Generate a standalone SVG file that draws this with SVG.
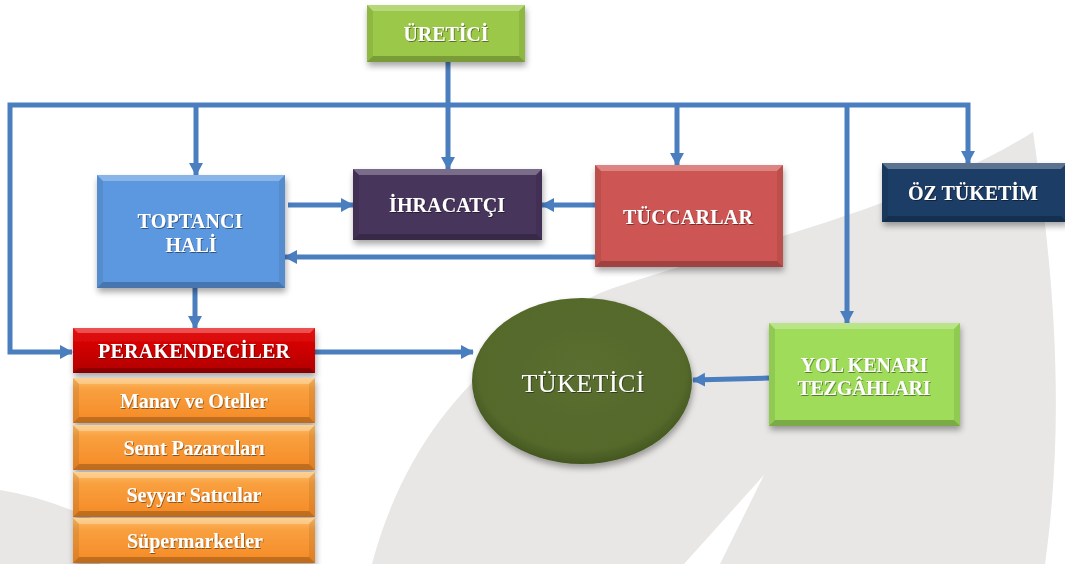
<svg xmlns="http://www.w3.org/2000/svg" width="1065" height="564" viewBox="0 0 1065 564">
<style>
.t{font-family:"Liberation Serif","Times New Roman",serif;font-weight:bold;font-size:20px;fill:#fff;text-anchor:middle;filter:url(#ts)}
.big{font-weight:normal;font-size:26px}
.c{fill:none;stroke:#4A7EBF;stroke-width:5;stroke-linejoin:miter}
.a{marker-end:url(#ah)}
.bt{fill:#fff;fill-opacity:.28}
.bb{fill:#000;fill-opacity:.22}
.bs{fill:#000;fill-opacity:.08}
.box{filter:url(#sh)}
</style>
<defs>
<filter id="sh" x="-10%" y="-10%" width="125%" height="135%"><feDropShadow dx="1" dy="4" stdDeviation="3" flood-color="#000" flood-opacity=".35"/></filter>
<filter id="ts" x="-5%" y="-20%" width="115%" height="150%"><feDropShadow dx="0.8" dy="1" stdDeviation="0.7" flood-color="#000" flood-opacity=".45"/></filter>
<marker id="ah" markerUnits="userSpaceOnUse" markerWidth="16" markerHeight="16" refX="12" refY="8" orient="auto"><path d="M0,1 L13,8 L0,15 Z" fill="#4A7EBF"/></marker>
<linearGradient id="gOr" x1="0" y1="0" x2="0" y2="1"><stop offset="0" stop-color="#FCC16A"/><stop offset=".25" stop-color="#F9A040"/><stop offset="1" stop-color="#F58A25"/></linearGradient>
<linearGradient id="gRed" x1="0" y1="0" x2="0" y2="1"><stop offset="0" stop-color="#E81010"/><stop offset=".5" stop-color="#CC0000"/><stop offset="1" stop-color="#B00000"/></linearGradient>
<radialGradient id="gEl" cx=".5" cy=".45" r=".55"><stop offset="0" stop-color="#5A6E30"/><stop offset=".85" stop-color="#55692C"/><stop offset="1" stop-color="#43561F"/></radialGradient>
</defs>
<rect width="1065" height="564" fill="#fff"/>
<g id="background">
<path d="M1033,132 C1050,250 1068,400 1045,564 L372,564 C405,440 480,350 600,293 C700,255 900,215 1033,132 Z" fill="#E8E7E6"/>
<path d="M764,475 L684,564 L720,564 Z" fill="#fff"/>
<path d="M0,490 Q45,497 100,522 L100,564 L0,564 Z" fill="#E8E7E6"/>
</g>
<g id="connectors">
<path class="c" d="M448,62 V107"/>
<path class="c a" d="M448,105 H10 V352 H72"/>
<path class="c a" d="M448,105 H968 V163"/>
<path class="c a" d="M196,105 V175"/>
<path class="c a" d="M448,105 V169"/>
<path class="c a" d="M677,105 V165"/>
<path class="c a" d="M847,105 V323"/>
<path class="c a" d="M288,205 H353"/>
<path class="c a" d="M595,205 H542"/>
<path class="c a" d="M595,257 H285"/>
<path class="c a" d="M195,288 V328"/>
<path class="c a" d="M315,352 H473"/>
<path class="c a" d="M769,378 L693,380"/>
</g>
<g id="uretici">
<rect class="box" x="367" y="5" width="158" height="57" fill="#9CC84A"/>
<polygon class="bt" points="367,5 525,5 519,11 373,11"/>
<polygon class="bb" points="367,62 525,62 519,56 373,56"/>
<polygon class="bs" points="367,5 373,11 373,56 367,62"/>
<polygon class="bs" points="525,5 519,11 519,56 525,62"/>
<text class="t" x="446" y="41" textLength="85">ÜRETİCİ</text>
</g>
<g id="toptanci">
<rect class="box" x="97" y="175" width="188" height="113" fill="#5B98DF"/>
<polygon class="bt" points="97,175 285,175 279,181 103,181"/>
<polygon class="bb" points="97,288 285,288 279,282 103,282"/>
<polygon class="bs" points="97,175 103,181 103,282 97,288"/>
<polygon class="bs" points="285,175 279,181 279,282 285,288"/>
<text class="t" x="190" y="228" textLength="105">TOPTANCI</text>
<text class="t" x="191" y="252">HALİ</text>
</g>
<g id="ihracatci">
<rect class="box" x="353" y="169" width="189" height="71" fill="#47365B"/>
<polygon class="bt" points="353,169 542,169 536,175 359,175"/>
<polygon class="bb" points="353,240 542,240 536,234 359,234"/>
<polygon class="bs" points="353,169 359,175 359,234 353,240"/>
<polygon class="bs" points="542,169 536,175 536,234 542,240"/>
<text class="t" x="447" y="212" textLength="116">İHRACATÇI</text>
</g>
<g id="tuccarlar">
<rect class="box" x="595" y="165" width="188" height="102" fill="#CD5553"/>
<polygon class="bt" points="595,165 783,165 777,171 601,171"/>
<polygon class="bb" points="595,267 783,267 777,261 601,261"/>
<polygon class="bs" points="595,165 601,171 601,261 595,267"/>
<polygon class="bs" points="783,165 777,171 777,261 783,267"/>
<text class="t" x="688" y="224" textLength="130">TÜCCARLAR</text>
</g>
<g id="oz-tuketim">
<rect class="box" x="882" y="163" width="185" height="59" fill="#1E3D66"/>
<polygon class="bt" points="882,163 1067,163 1061,169 888,169"/>
<polygon class="bb" points="882,222 1067,222 1061,216 888,216"/>
<polygon class="bs" points="882,163 888,169 888,216 882,222"/>
<text class="t" x="973" y="200" textLength="130">ÖZ TÜKETİM</text>
</g>
<g id="perakendeciler">
<rect class="box" x="73" y="328" width="242" height="45" fill="url(#gRed)"/>
<polygon class="bt" points="73,328 315,328 310,333 78,333"/>
<polygon class="bb" points="73,373 315,373 310,368 78,368"/>
<text class="t" x="194" y="358" textLength="192">PERAKENDECİLER</text>
</g>
<g id="manav">
<rect class="box" x="73" y="378" width="242" height="45" fill="url(#gOr)"/>
<polygon class="bt" points="73,378 315,378 309,384 79,384"/>
<polygon class="bb" points="73,423 315,423 309,417 79,417"/>
<polygon class="bs" points="73,378 79,384 79,417 73,423"/>
<polygon class="bs" points="315,378 309,384 309,417 315,423"/>
<text class="t" x="194" y="408" textLength="148">Manav ve Oteller</text>
</g>
<g id="semt">
<rect class="box" x="73" y="425" width="242" height="45" fill="url(#gOr)"/>
<polygon class="bt" points="73,425 315,425 309,431 79,431"/>
<polygon class="bb" points="73,470 315,470 309,464 79,464"/>
<polygon class="bs" points="73,425 79,431 79,464 73,470"/>
<polygon class="bs" points="315,425 309,431 309,464 315,470"/>
<text class="t" x="194" y="455" textLength="141">Semt Pazarcıları</text>
</g>
<g id="seyyar">
<rect class="box" x="73" y="472" width="242" height="45" fill="url(#gOr)"/>
<polygon class="bt" points="73,472 315,472 309,478 79,478"/>
<polygon class="bb" points="73,517 315,517 309,511 79,511"/>
<polygon class="bs" points="73,472 79,478 79,511 73,517"/>
<polygon class="bs" points="315,472 309,478 309,511 315,517"/>
<text class="t" x="194" y="502" textLength="135">Seyyar Satıcılar</text>
</g>
<g id="supermarketler">
<rect class="box" x="73" y="518" width="242" height="45" fill="url(#gOr)"/>
<polygon class="bt" points="73,518 315,518 309,524 79,524"/>
<polygon class="bb" points="73,563 315,563 309,557 79,557"/>
<polygon class="bs" points="73,518 79,524 79,557 73,563"/>
<polygon class="bs" points="315,518 309,524 309,557 315,563"/>
<text class="t" x="195" y="548" textLength="136">Süpermarketler</text>
</g>
<g id="tuketici">
<ellipse class="box" cx="582" cy="381" rx="110" ry="83" fill="url(#gEl)"/>
<text class="t big" x="583" y="392" textLength="123">TÜKETİCİ</text>
</g>
<g id="yol-kenari">
<rect class="box" x="769" y="323" width="191" height="103" fill="#9EDC5A"/>
<polygon class="bt" points="769,323 960,323 954,329 775,329"/>
<polygon class="bb" points="769,426 960,426 954,420 775,420"/>
<polygon class="bs" points="769,323 775,329 775,420 769,426"/>
<polygon class="bs" points="960,323 954,329 954,420 960,426"/>
<text class="t" x="864" y="372" textLength="127">YOL KENARI</text>
<text class="t" x="864" y="395" textLength="133">TEZGÂHLARI</text>
</g>
</svg>
